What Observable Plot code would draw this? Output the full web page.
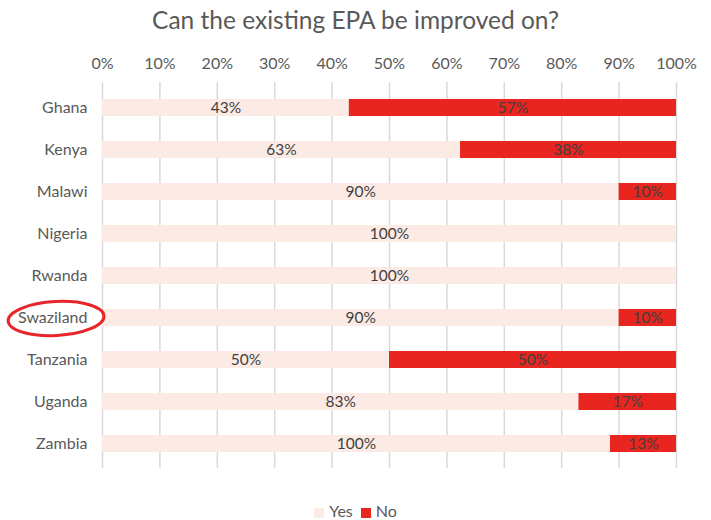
<!DOCTYPE html>
<html>
<head>
<meta charset="utf-8">
<script src="https://cdn.jsdelivr.net/npm/d3@7"></script>
<script src="https://cdn.jsdelivr.net/npm/@observablehq/plot@0.6"></script>
<style>
  html, body { margin: 0; padding: 0; background: #fff; }
  body { width: 711px; height: 520px; font-family: Lato, "Open Sans", sans-serif; color: #595959; position: relative; overflow: hidden; }
  #title { position: absolute; top: 3px; left: 0; width: 711px; text-align: center; font-size: 24.5px; line-height: 34px; color: #595959; }
  #chart { position: absolute; top: 40px; left: 0; }
  #legend { position: absolute; top: 501px; left: 0; width: 711px; text-align: center; font-size: 16px; line-height: 20px; color: #595959; }
  #legend span.sw { display: inline-block; width: 10px; height: 10px; margin-right: 5px; vertical-align: -1px; }
  #legend span.item { margin: 0 4px; }
</style>
</head>
<body>
<div id="title">Can the existing EPA be improved on?</div>
<div id="chart"></div>
<div id="legend"></div>
<script>
const countries = ["Ghana","Kenya","Malawi","Nigeria","Rwanda","Swaziland","Tanzania","Uganda","Zambia"];
const yesValues = [43,63,90,100,100,90,50,83,100];
const noValues  = [57,38,10,0,0,10,50,17,13];
const answers = ["Yes","No"];
const answerColors = ["#FCEBE5","#E8251E"];
const xTicks = [0,0.1,0.2,0.3,0.4,0.5,0.6,0.7,0.8,0.9,1];
const highlighted = "Swaziland";

const data = [];
countries.forEach((c, i) => {
  data.push({country: c, answer: "Yes", value: yesValues[i]});
  data.push({country: c, answer: "No", value: noValues[i]});
});

const W = 711, H = 440;
const plot = Plot.plot({
  width: W,
  height: H,
  marginTop: 42,
  marginBottom: 12,
  marginLeft: 102,
  marginRight: 35,
  style: {fontFamily: "Lato, 'Open Sans', sans-serif", fontSize: "16px", color: "#595959", background: "#fff"},
  x: {domain: [0, 1], axis: "top", ticks: xTicks, tickFormat: d => Math.round(d * 100) + "%", tickSize: 0, tickPadding: 14, label: null, grid: false},
  y: {domain: countries, paddingInner: 0.6, paddingOuter: 0.3, tickSize: 0, tickPadding: 15, label: null},
  color: {domain: answers, range: answerColors},
  marks: [
    Plot.ruleX(xTicks, {stroke: "#d9d9d9", strokeWidth: 1.5, strokeOpacity: 1}),
    Plot.barX(data, Plot.stackX({x: "value", y: "country", fill: "answer", order: answers, offset: "normalize"})),
    Plot.textX(data.filter(d => d.value > 0), Plot.stackX({x: "value", y: "country", z: "answer", order: answers, offset: "normalize", text: d => d.value + "%", fill: "#404040", fontSize: 15.5}))
  ]
});
document.getElementById("chart").appendChild(plot);

// Hand-drawn highlight ellipse around one category label
const ys = plot.scale("y");
const cy = ys.apply(highlighted) + ys.bandwidth / 2;
d3.select(plot).append("ellipse")
  .attr("cx", 56).attr("cy", cy + 1)
  .attr("rx", 48).attr("ry", 17)
  .attr("transform", `rotate(-3 56 ${cy})`)
  .attr("fill", "none").attr("stroke", "#E8252B").attr("stroke-width", 3);

// Legend
const legend = document.getElementById("legend");
answers.forEach((a, i) => {
  const item = document.createElement("span");
  item.className = "item";
  item.innerHTML = `<span class="sw" style="background:${answerColors[i]}"></span>${a}`;
  legend.appendChild(item);
});
</script>
</body>
</html>
